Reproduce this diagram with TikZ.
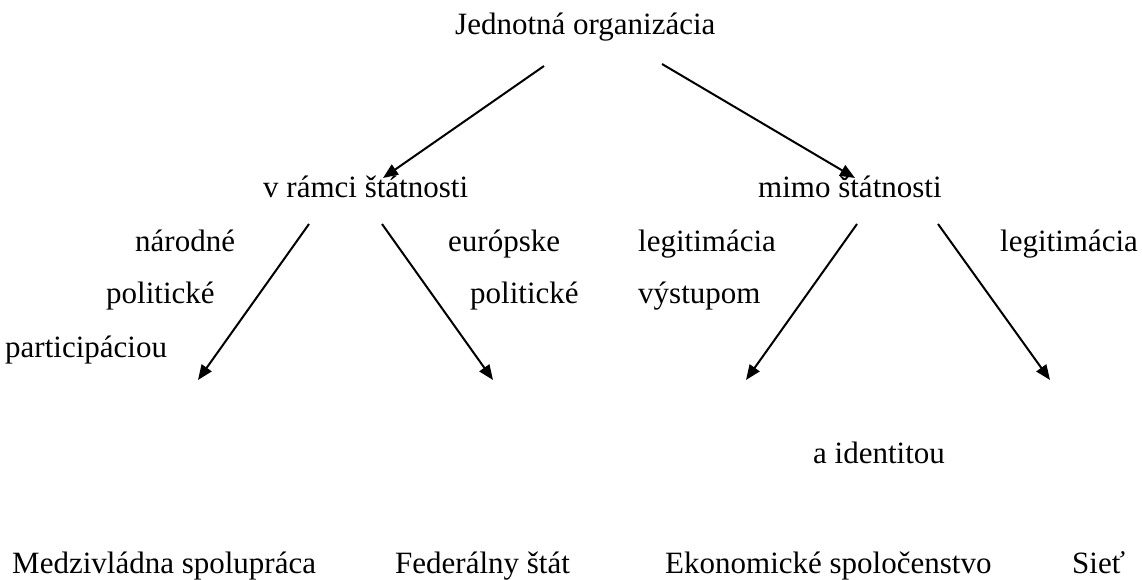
\documentclass[tikz,border=0pt]{standalone}
\usepackage{fontspec}
\setmainfont{Liberation Serif}
\usetikzlibrary{arrows.meta}
\begin{document}
\begin{tikzpicture}[x=1pt,y=-1pt,
  lbl/.style={anchor=base west,inner sep=0pt,font=\fontsize{31}{36}\selectfont},
  arr/.style={line width=2pt,-{Triangle[length=15pt,width=12pt]}}]
\useasboundingbox (0,0) rectangle (1142,580);
\fill[white] (0,0) rectangle (1142,580);
% texts
\node[lbl] (root) at (455,35) {Jednotná organizácia};
\node[lbl] (vramci) at (263,197) {v rámci štátnosti};
\node[lbl] (mimo) at (758,197) {mimo štátnosti};
\node[lbl] (narodne) at (135,251) {národné};
\node[lbl] (polit1) at (106,303) {politické};
\node[lbl] (partic) at (5,357) {participáciou};
\node[lbl] (europ) at (448,251) {európske};
\node[lbl] (polit2) at (470,303) {politické};
\node[lbl] (legit1) at (638,251) {legitimácia};
\node[lbl] (vystup) at (638,303) {výstupom};
\node[lbl] (legit2) at (1000,251) {legitimácia};
\node[lbl] (aident) at (813,463) {a identitou};
\node[lbl] (medz) at (12,573) {Medzivládna spolupráca};
\node[lbl] (feder) at (395,573) {Federálny štát};
\node[lbl] (ekon) at (665,573) {Ekonomické spoločenstvo};
\node[lbl] (siet) at (1072,573) {Sieť};
% arrow end points
\coordinate (r1) at (544,66);
\coordinate (r2) at (662,64);
\coordinate (v1) at (383,178);
\coordinate (m1) at (855,178);
\coordinate (a3s) at (309,224);
\coordinate (a3e) at (198,380);
\coordinate (a4s) at (382,224);
\coordinate (a4e) at (493,380);
\coordinate (a5s) at (857,224);
\coordinate (a5e) at (746,380);
\coordinate (a6s) at (938,224);
\coordinate (a6e) at (1050,380);
% arrows
\draw[arr] (r1) -- (v1);
\draw[arr] (r2) -- (m1);
\draw[arr] (a3s) -- (a3e);
\draw[arr] (a4s) -- (a4e);
\draw[arr] (a5s) -- (a5e);
\draw[arr] (a6s) -- (a6e);
\end{tikzpicture}
\end{document}
